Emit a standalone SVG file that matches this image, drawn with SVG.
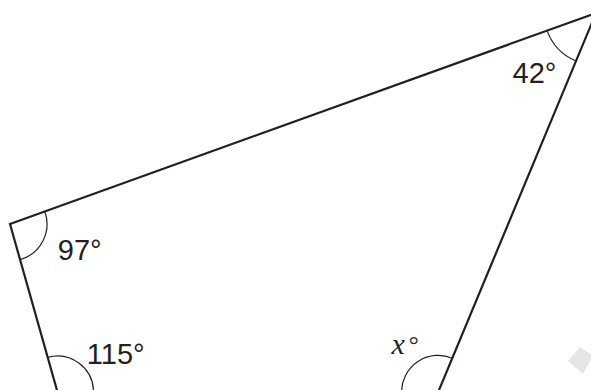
<svg xmlns="http://www.w3.org/2000/svg" width="591" height="390" viewBox="0 0 591 390">
  <style>
    .side { fill: none; stroke: #231f20; stroke-width: 2.2; stroke-linejoin: miter; }
    .arc { fill: none; stroke: #231f20; stroke-width: 1.2; }
    .lbl { font-family: "Liberation Sans", Arial, sans-serif; font-size: 29px; fill: #231f20; }
    .var { font-family: "Liberation Serif", "Times New Roman", serif; font-size: 30px; fill: #231f20; }
  </style>
  <rect width="591" height="390" fill="#ffffff"/>
  <polygon points="568,361 580,347 593,356 583,374" fill="#e6e6e6"/>
  <g id="quadrilateral">
    <polygon class="side" points="10,224 596,13 438.2,392 57.5,392"/>
  </g>
  <g id="angle-marks">
    <path class="arc" d="M44.8,211.5 A37,37 0 0 1 20.1,259.6"/>
    <path class="arc" d="M547.1,30.6 A52,52 0 0 0 576,61"/>
    <path class="arc" d="M47.7,357.4 A36,36 0 0 1 93.5,392"/>
    <path class="arc" d="M452.3,358.2 A36.6,36.6 0 0 0 401.6,392"/>
  </g>
  <g id="labels">
    <text class="lbl" x="57.8" y="259.5">97°</text>
    <text class="lbl" x="512.5" y="83">42°</text>
    <text class="lbl" x="86.8" y="363.5">115°</text>
    <text class="var" x="391.5" y="353.5"><tspan font-style="italic">x</tspan><tspan font-size="25" dx="4" dy="-1">°</tspan></text>
  </g>
</svg>
